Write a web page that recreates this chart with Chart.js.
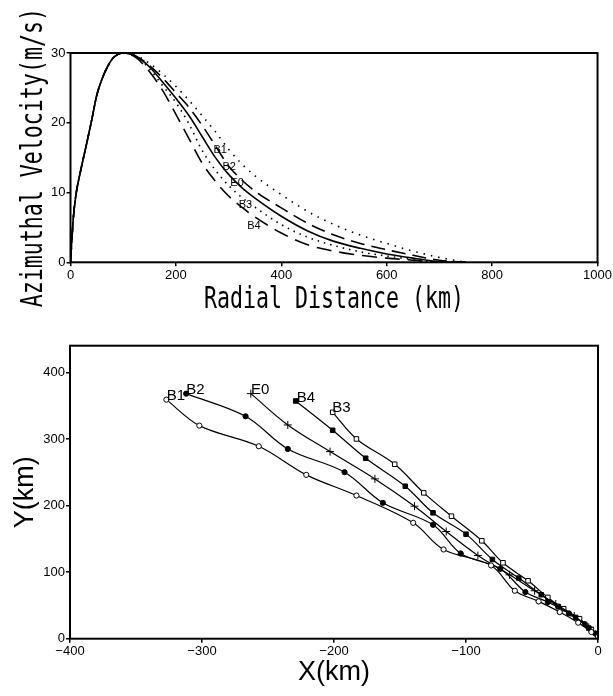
<!DOCTYPE html>
<html>
<head>
<meta charset="utf-8">
<script src="https://cdn.jsdelivr.net/npm/chart.js@4.4.0/dist/chart.umd.min.js"></script>
<style>
  html, body { margin: 0; padding: 0; background: #fff; }
  .box { position: absolute; left: 0; width: 613px; }
</style>
</head>
<body>
<div class="box" style="top:0;height:320px"><canvas id="profile" width="613" height="320"></canvas></div>
<div class="box" style="top:320px;height:376px"><canvas id="tracks" width="613" height="376"></canvas></div>

<script>
// ---- top panel: azimuthal velocity profiles ----
const riseKm  = [0, 5, 10, 20, 30, 40, 50, 60, 70, 80, 90];
const riseVel = [0, 6, 9.5, 13.4, 16.8, 20.3, 24, 26.3, 28, 29.2, 29.8];
const decayKm = [100, 125, 150, 175, 200, 225, 250, 275, 300, 325, 350, 400, 450, 500, 550, 600, 650, 700, 750];
const velB1 = [30, 29.6, 28.5, 27, 25.2, 23.2, 21, 18.7, 16.2, 14.1, 12.4, 9.7, 7.3, 5.4, 3.9, 2.7, 1.6, 0.7, 0];
const velB2 = [30, 29.5, 28.2, 26.4, 24.3, 22.2, 19.6, 16.7, 13.8, 11.8, 10.2, 7.8, 5.6, 3.9, 2.7, 1.8, 1.0, 0.3, 0];
const velE0 = [30, 29.5, 28, 25.8, 23.5, 21, 18, 15, 12.6, 10.7, 9.2, 6.6, 4.5, 3.0, 2.0, 1.2, 0.6, 0.1, 0];
const velB3 = [30, 29.4, 27.7, 25.3, 22.9, 19.8, 16, 13.2, 11, 9.3, 7.9, 5.4, 3.6, 2.4, 1.5, 0.9, 0.4, 0, 0];
const velB4 = [30, 29.3, 27.3, 24.6, 21.2, 17.7, 14.2, 11.6, 9.5, 7.9, 6.5, 4.2, 2.5, 1.6, 1.0, 0.6, 0.3, 0, 0];
const profileNames = ['B1', 'B2', 'E0', 'B3', 'B4'];
const profileLabelKm  = [284, 301, 316, 332, 348];
const profileLabelVel = [16.1, 13.7, 11.3, 8.2, 5.2];
const profileXTicks = [0, 200, 400, 600, 800, 1000];
const profileYTicks = [0, 10, 20, 30];

// ---- bottom panel: tracks ----
const trackB1X = [-327, -302, -257, -221, -183, -140, -117, -81, -63, -45, -29, -15, -5, 0];
const trackB1Y = [359, 320, 289, 246, 215, 174, 134, 110, 72, 56, 40, 24, 10, 3];
const trackB2X = [-312, -267, -235, -192, -163, -125, -104, -74, -55, -38, -22, -10, -2, 0];
const trackB2Y = [368, 334, 285, 250, 204, 171, 128, 105, 70, 55, 38, 22, 8, 3];
const trackE0X = [-263, -235, -203, -169, -139, -115, -91, -67, -48, -32, -18, -7, 0];
const trackE0Y = [368, 321, 281, 240, 199, 161, 125, 96, 72, 52, 34, 17, 4];
const trackB4X = [-229, -201, -176, -146, -125, -100, -80, -60, -43, -30, -17, -7, 0];
const trackB4Y = [357, 313, 271, 229, 189, 157, 119, 91, 66, 48, 32, 16, 4];
const trackB3X = [-201, -183, -154, -132, -111, -88, -72, -53, -38, -26, -14, -5, 0];
const trackB3Y = [340, 300, 262, 219, 184, 147, 114, 87, 62, 45, 30, 14, 3];
const trackNames = ['B1', 'B2', 'E0', 'B4', 'B3'];
const trackLabelX = [-319.7, -304.9, -256, -221.2, -194.4];
const trackLabelY = [365, 374, 374, 362.4, 347];
const trackXTicks = [-400, -300, -200, -100, 0];
const trackYTicks = [0, 100, 200, 300, 400];

const pts = (xs, ys) => xs.map((x, i) => ({ x: x, y: ys[i] }));
const tickFont = { family: "'Liberation Sans', Arial, sans-serif", size: 13 };

// frame, curve labels and axis titles
const annotate = {
  id: 'annotate',
  afterDraw(chart, args, o) {
    const { ctx, chartArea: a } = chart;
    const sx = chart.scales.x, sy = chart.scales.y;
    ctx.save();
    ctx.strokeStyle = '#000';
    ctx.lineWidth = 2;
    ctx.strokeRect(a.left, a.top, a.right - a.left, a.bottom - a.top);

    ctx.fillStyle = '#000';
    ctx.font = o.labelFont;
    ctx.textAlign = 'center';
    ctx.textBaseline = 'middle';
    o.names.forEach((t, i) => {
      ctx.fillText(t, sx.getPixelForValue(o.lx[i]), sy.getPixelForValue(o.ly[i]));
    });

    ctx.font = o.titleFont;
    ctx.textBaseline = 'alphabetic';
    // x title
    ctx.save();
    ctx.translate((a.left + a.right) / 2, o.xBase);
    ctx.scale(o.squeeze, 1);
    ctx.fillText(o.xTitle, 0, 0);
    ctx.restore();
    // y title
    ctx.save();
    ctx.translate(o.yBase, (a.top + a.bottom) / 2);
    ctx.rotate(-Math.PI / 2);
    ctx.scale(o.squeeze, 1);
    ctx.fillText(o.yTitle, 0, 0);
    ctx.restore();
    ctx.restore();
  }
};

function axis(min, max, ticks, fit, fmt) {
  return {
    type: 'linear', min: min, max: max,
    afterBuildTicks: s => { s.ticks = ticks.map(v => ({ value: v })); },
    afterFit: fit,
    border: { display: false },
    grid: { drawOnChartArea: false, drawTicks: true, tickLength: 4, color: '#000', lineWidth: 1.5 },
    ticks: { color: '#000', font: tickFont, padding: 1, maxRotation: 0, autoSkip: false,
             callback: fmt || (v => v) }
  };
}

new Chart(document.getElementById('profile'), {
  type: 'scatter',
  data: {
    datasets: [
      { label: 'B1', data: pts(riseKm.concat(decayKm), riseVel.concat(velB1)), borderDash: [1.5, 6] },
      { label: 'B2', data: pts(riseKm.concat(decayKm), riseVel.concat(velB2)), borderDash: [14, 7] },
      { label: 'E0', data: pts(riseKm.concat(decayKm), riseVel.concat(velE0)), borderDash: [] },
      { label: 'B3', data: pts(riseKm.concat(decayKm), riseVel.concat(velB3)), borderDash: [1.5, 5] },
      { label: 'B4', data: pts(riseKm.concat(decayKm), riseVel.concat(velB4)), borderDash: [15, 8] }
    ].map(d => Object.assign(d, {
      showLine: true, borderColor: '#000', borderWidth: 1.6, pointRadius: 0,
      cubicInterpolationMode: 'monotone'
    }))
  },
  options: {
    responsive: false, animation: false,
    layout: { padding: { left: 0, right: 15, top: 53, bottom: 0 } },
    plugins: {
      legend: { display: false }, tooltip: { enabled: false },
      annotate: {
        names: profileNames, lx: profileLabelKm, ly: profileLabelVel,
        labelFont: "11px 'Liberation Sans', Arial, sans-serif",
        titleFont: "30px 'DejaVu Sans Mono', monospace", squeeze: 0.72,
        xTitle: 'Radial Distance (km)', xBase: 308,
        yTitle: 'Azimuthal Velocity(m/s)', yBase: 42
      }
    },
    scales: {
      x: axis(0, 1000, profileXTicks, s => { s.height = 57.7; }),
      y: axis(0, 30, profileYTicks, s => { s.width = 70.5; })
    }
  },
  plugins: [annotate]
});

const markers = [
  { style: 'circle', r: 2.6, fill: '#fff' },
  { style: 'circle', r: 2.6, fill: '#000' },
  { style: 'cross',  r: 4,   fill: '#000' },
  { style: 'rect',   r: 3.2, fill: '#000' },
  { style: 'rect',   r: 3.2, fill: '#fff' }
];
const trackData = [pts(trackB1X, trackB1Y), pts(trackB2X, trackB2Y), pts(trackE0X, trackE0Y),
                   pts(trackB4X, trackB4Y), pts(trackB3X, trackB3Y)];

new Chart(document.getElementById('tracks'), {
  type: 'scatter',
  data: {
    datasets: trackData.map((d, i) => ({
      label: trackNames[i], data: d, showLine: true, tension: 0.35,
      borderColor: '#000', borderWidth: 1.2,
      pointStyle: markers[i].style, pointRadius: markers[i].r,
      pointBackgroundColor: markers[i].fill, pointBorderColor: '#000', pointBorderWidth: 1
    }))
  },
  options: {
    responsive: false, animation: false,
    layout: { padding: { left: 0, right: 15, top: 25.7, bottom: 0 } },
    plugins: {
      legend: { display: false }, tooltip: { enabled: false },
      annotate: {
        names: trackNames, lx: trackLabelX, ly: trackLabelY,
        labelFont: "15px 'Liberation Sans', Arial, sans-serif",
        titleFont: "27px 'Liberation Sans', Arial, sans-serif", squeeze: 1,
        xTitle: 'X(km)', xBase: 360,
        yTitle: 'Y(km)', yBase: 33
      }
    },
    scales: {
      x: axis(-400, 0, trackXTicks, s => { s.height = 57.3; }, v => v < 0 ? '\u2212' + Math.abs(v) : v),
      y: axis(0, 440, trackYTicks, s => { s.width = 70; })
    }
  },
  plugins: [annotate]
});
</script>
</body>
</html>
